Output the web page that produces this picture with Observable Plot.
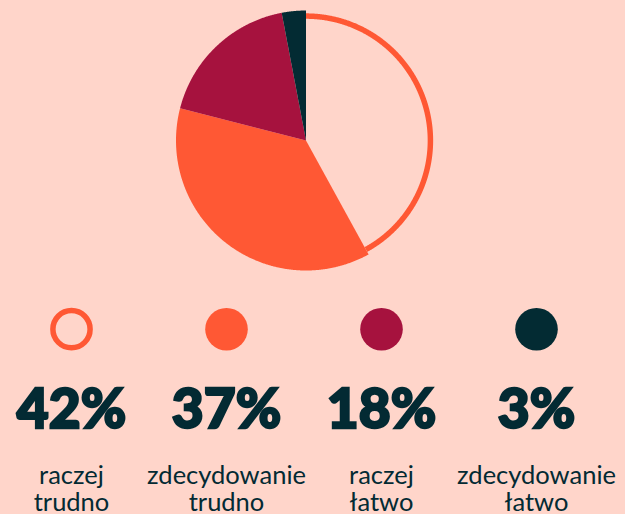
<!DOCTYPE html>
<html>
<head>
<meta charset="utf-8">
<script src="https://cdn.jsdelivr.net/npm/d3@7"></script>
<script src="https://cdn.jsdelivr.net/npm/@observablehq/plot@0.6"></script>
<style>
  html, body { margin: 0; padding: 0; background: #FFD5CA; }
  #chart { width: 625px; height: 514px; overflow: hidden; background: #FFD5CA; }
  #chart svg { display: block; background: transparent; }
</style>
</head>
<body>
<div id="chart"></div>
<script>
// ---- data ----
const categories = ["raczej trudno", "zdecydowanie trudno", "raczej łatwo", "zdecydowanie łatwo"];
const labelLines = ["raczej\ntrudno", "zdecydowanie\ntrudno", "raczej\nłatwo", "zdecydowanie\nłatwo"];
const values = [42, 37, 18, 3];
const percentLabels = ["42%", "37%", "18%", "3%"];
const outlined = ["raczej trudno"];
const palette = ["#FF5834", "#FF5834", "#A6123E", "#032B33"];

const rows = categories.map((c, i) => ({cat: c, value: values[i], pct: percentLabels[i], label: labelLines[i]}));

// ---- pie geometry (unit radius) from the values ----
const arcs = d3.pie().sort(null).value(d => d.value)(rows);
const ringRadius = 0.957;
function arcPoints(a, r, withCenter) {
  const n = Math.max(2, Math.ceil((a.endAngle - a.startAngle) / 0.005));
  const pts = [];
  if (withCenter) pts.push({cat: a.data.cat, x: 0, y: 0});
  for (let k = 0; k <= n; k++) {
    const t = a.startAngle + (a.endAngle - a.startAngle) * k / n;
    pts.push({cat: a.data.cat, x: r * Math.sin(t), y: r * Math.cos(t)});
  }
  return pts;
}
const filledPts = arcs.filter(a => !outlined.includes(a.data.cat)).flatMap(a => arcPoints(a, 1, true));
const ringPts = arcs.filter(a => outlined.includes(a.data.cat)).flatMap(a => arcPoints(a, ringRadius, false));

const colorScale = {domain: categories, range: palette};
const ink = "#032A33";

const pie = Plot.plot({
  width: 625,
  height: 290,
  marginLeft: 175.5,
  marginRight: 189.5,
  marginTop: 10,
  marginBottom: 20,
  x: {domain: [-1, 1], axis: null},
  y: {domain: [-1, 1], axis: null},
  color: colorScale,
  style: {background: "transparent"},
  marks: [
    Plot.line(filledPts, {x: "x", y: "y", z: "cat", fill: "cat", stroke: "none"}),
    Plot.line(ringPts, {x: "x", y: "y", z: "cat", stroke: "cat", strokeWidth: 5.5, strokeLinecap: "butt"})
  ]
});

const legend = Plot.plot({
  width: 625,
  height: 224,
  marginLeft: 70.5,
  marginRight: 88.5,
  marginTop: 0,
  marginBottom: 0,
  x: {type: "point", domain: categories, padding: 0, axis: null},
  color: colorScale,
  style: {background: "transparent"},
  marks: [
    Plot.dot(rows.filter(d => !outlined.includes(d.cat)), {x: "cat", frameAnchor: "top", dy: 38.7, r: 21.3, fill: "cat", stroke: "none"}),
    Plot.dot(rows.filter(d => outlined.includes(d.cat)), {x: "cat", frameAnchor: "top", dy: 38.7, r: 18.6, fill: "none", stroke: "cat", strokeWidth: 5.5}),
    Plot.text(rows, {x: "cat", text: "pct", frameAnchor: "top", dy: 137.5, lineAnchor: "bottom",
      fontSize: 55, fontWeight: 900, fontFamily: "Lato", fill: ink,
      stroke: ink, strokeWidth: 2.4, strokeLinejoin: "miter"}),
    Plot.text(rows, {x: "cat", text: "label", frameAnchor: "top", dy: 220.7, lineAnchor: "bottom",
      lineHeight: 1.056, fontSize: 25.5, fontWeight: 400, fontFamily: "Lato", fill: ink})
  ]
});

const root = document.getElementById("chart");
root.appendChild(pie);
root.appendChild(legend);
</script>
</body>
</html>
